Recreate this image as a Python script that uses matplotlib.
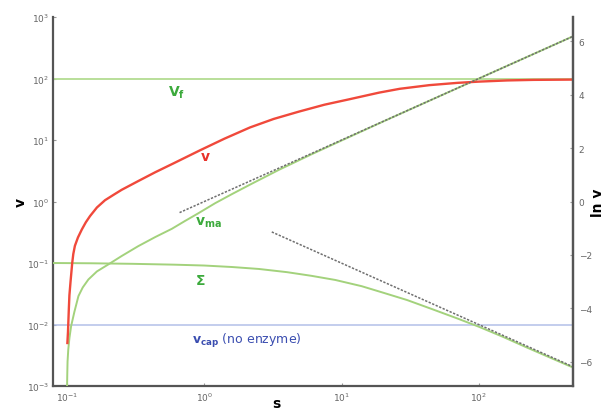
import numpy as np
import matplotlib
matplotlib.use('Agg')
import matplotlib.pyplot as plt
from matplotlib.ticker import LogLocator, NullLocator, FixedLocator

# ---- daten ----
s_v = [0.1005, 0.1015, 0.102, 0.103, 0.104, 0.106, 0.109, 0.111, 0.114, 0.12, 0.128,
       0.137, 0.147, 0.165, 0.189, 0.22, 0.25, 0.33, 0.44, 0.6, 0.93, 1.4, 2.15, 3.2,
       4.9, 7.5, 11.4, 18.8, 26.5, 43.6, 70, 100, 160, 250, 485]
v_v = [0.005, 0.0075, 0.01, 0.018, 0.03, 0.05, 0.1, 0.14, 0.19, 0.26, 0.35,
       0.46, 0.58, 0.8, 1.05, 1.3, 1.55, 2.15, 3.0, 4.2, 6.8, 10.5, 16, 22,
       29, 37.5, 46, 59, 68, 78, 85, 89, 93, 95, 96]

s_ma = [0.1, 0.1003, 0.1008, 0.102, 0.104, 0.107, 0.113, 0.121, 0.13, 0.143, 0.165,
        0.2, 0.25, 0.33, 0.44, 0.58, 0.72, 0.9, 1.2, 1.6, 2.2, 3.5, 6, 10, 20, 50,
        100, 200, 485]
v_ma = [0.001, 0.0015, 0.0025, 0.0039, 0.006, 0.0094, 0.016, 0.029, 0.04, 0.054, 0.073,
        0.095, 0.13, 0.188, 0.265, 0.36, 0.48, 0.64, 0.94, 1.33, 1.93, 3.28, 5.82, 9.82,
        19.9, 49.9, 99.9, 200, 485]

s_sig = [0.079, 0.15, 0.3, 0.6, 1.0, 1.6, 2.5, 4, 6, 9, 14, 20, 30, 45, 70, 100,
         150, 220, 330, 485]
v_sig = [0.100, 0.099, 0.097, 0.094, 0.091, 0.086, 0.080, 0.071, 0.062, 0.053, 0.042,
         0.033, 0.025, 0.018, 0.0125, 0.0092, 0.0063, 0.0043, 0.0029, 0.0020]

s_asym1 = [0.66, 485]     # v_ma -> s
v_asym1 = [0.66, 485]
s_asym2 = [3.1, 485]      # Sigma -> 1/s
v_asym2 = [0.32, 0.00206]

V_f = 100
v_cap = 0.01
s_min, s_max = 0.079, 485

# ---- figur ----
fig = plt.figure(figsize=(6.06, 4.14), dpi=100)
ax = fig.add_axes([0.0875, 0.0652, 0.858, 0.8913])

ax.axhline(V_f, color='#b3dc92', lw=1.3, zorder=2)
ax.axhline(v_cap, color='#b3c0e8', lw=1.1, zorder=2)
ax.plot(s_sig, v_sig, color='#a3d27c', lw=1.4, zorder=3)
ax.plot(s_ma, v_ma, color='#a3d27c', lw=1.4, zorder=3)
ax.plot(s_v, v_v, color='#f0493b', lw=1.7, zorder=4)
ax.plot(s_asym1, v_asym1, color='#6f6f6f', lw=1.1, ls=(0, (1.5, 1)), zorder=5)
ax.plot(s_asym2, v_asym2, color='#6f6f6f', lw=1.1, ls=(0, (1.5, 1)), zorder=5)

ax.set_xscale('log')
ax.set_yscale('log')
ax.set_xlim(s_min, s_max)
ax.set_ylim(1e-3, 1e3)
ax.xaxis.set_major_locator(FixedLocator([0.1, 1, 10, 100]))
ax.yaxis.set_major_locator(LogLocator(base=10, numticks=10))
ax.xaxis.set_minor_locator(NullLocator())
ax.yaxis.set_minor_locator(NullLocator())

# beschriftungen
green = '#3caa3c'
ax.text(0.54, 61, r'$\mathbf{V}_{\mathbf{f}}$', color=green, fontsize=10, ha='left', va='center')
ax.text(1.01, 5.4, r'$\mathbf{v}$', color='#e8322b', fontsize=10, ha='center', va='center')
ax.text(0.85, 0.47, r'$\mathbf{v}_{\mathbf{ma}}$', color=green, fontsize=10, ha='left', va='center')
ax.text(0.93, 0.052, r'$\mathbf{\Sigma}$', color=green, fontsize=10, ha='center', va='center')
ax.text(0.81, 0.0055, r'$\mathbf{v}_{\mathbf{cap}}$ (no enzyme)', color='#3a4db0',
        fontsize=9, ha='left', va='center')

ax.set_xlabel('s', fontsize=10, fontweight='bold')
ax.set_ylabel('v', fontsize=10, fontweight='bold')
ax.xaxis.set_label_coords(0.43, -0.028)
ax.yaxis.set_label_coords(-0.048, 0.5)

spine_c = '#555555'
for side in ['left', 'bottom', 'right']:
    ax.spines[side].set_color(spine_c)
    ax.spines[side].set_linewidth(1.6)
ax.spines['top'].set_visible(False)
ax.tick_params(axis='both', labelsize=6.5, labelcolor='#666666', color='#999999',
               length=2, width=0.8, direction='in', pad=3)

# rechte achse: ln v
ax2 = ax.twinx()
ax2.set_ylim(np.log(1e-3), np.log(1e3))
ax2.yaxis.set_major_locator(FixedLocator([-6, -4, -2, 0, 2, 4, 6]))
ax2.spines['top'].set_visible(False)
ax2.spines['left'].set_visible(False)
ax2.spines['bottom'].set_visible(False)
ax2.spines['right'].set_color(spine_c)
ax2.spines['right'].set_linewidth(1.6)
ax2.tick_params(axis='y', labelsize=6.5, labelcolor='#666666', color='#999999',
                length=2, width=0.8, direction='in', pad=4)
ax2.set_ylabel('ln v', fontsize=10, fontweight='bold')
ax2.yaxis.set_label_coords(1.035, 0.5)

fig.savefig('out.png', dpi=100)
